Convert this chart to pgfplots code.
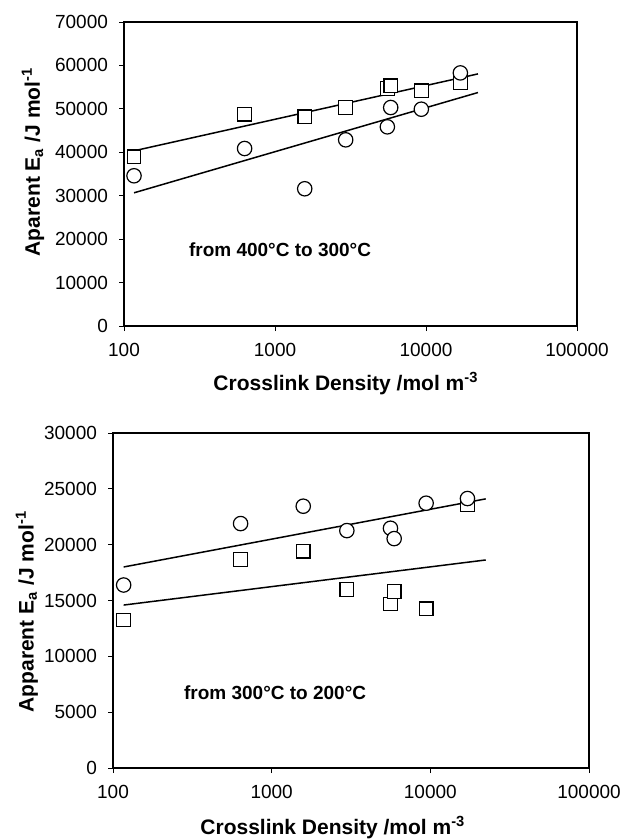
\documentclass[border=0pt]{standalone}
\usepackage{fontspec}
\setmainfont{Liberation Sans}
\usepackage{pgfplots}
\pgfplotsset{compat=1.18}
\pgfplotsset{
  mycommon/.style={
    scale only axis,
    xmin=100, xmax=100000,
    xtick={100,1000,10000,100000},
    xticklabels={100,1000,10000,100000},
    xminorticks=false,
    scaled y ticks=false,
    xtick pos=bottom, ytick pos=left,
    tick align=outside,
    major tick length=2.5pt,
    tick style={black, line width=0.5pt},
    axis line style={line width=0.8pt},
    tick label style={font=\fontsize{9.5}{11}\selectfont},
    xticklabel style={yshift=-2.5pt},
    yticklabel style={xshift=-2pt},
    label style={font=\bfseries\fontsize{10.5}{12}\selectfont},
    xlabel={Crosslink Density /mol m\textsuperscript{-3}},
    clip=false,
  },
  fitline/.style={black, line width=0.75pt, no marks},
  sq/.style={only marks, mark=square*, mark size=3.4pt, mark options={draw=black, fill=white, line width=0.6pt}},
  ci/.style={only marks, mark=*, mark size=3.6pt, mark options={draw=black, fill=white, line width=0.6pt}},
}
\begin{document}
\begin{tikzpicture}
\useasboundingbox (0pt,0pt) rectangle (310.5pt,-419.5pt);
% ---------------- top panel ----------------
\begin{semilogxaxis}[mycommon,
  at={(62pt,-163pt)}, anchor=south west,
  width=226.5pt, height=152pt,
  ymin=0, ymax=70000,
  ytick={0,10000,20000,30000,40000,50000,60000,70000},
  yticklabels={0,10000,20000,30000,40000,50000,60000,70000},
  ylabel={Aparent E\textsubscript{a} /J mol\textsuperscript{-1}},
  ylabel style={at={(axis description cs:-0.201,0.54)}, anchor=center},
  xlabel style={at={(axis description cs:0.49,-0.19)}, anchor=center},
]
\addplot[fitline] coordinates {(116.5,40340) (22080,58050)};
\addplot[fitline] coordinates {(116.5,30670) (22080,53760)};
\addplot[sq] coordinates {
 (116.5,38960) (629,48770) (1573,48160) (2938,50310)
 (5546,54680) (5837,55290) (9311,54140) (16882,55980)};
\addplot[ci] coordinates {
 (116.5,34590) (629,40870) (1573,31600) (2938,42870)
 (5546,45860) (5837,50310) (9311,49920) (16882,58280)};
\node[anchor=west, inner sep=0pt, font=\bfseries\fontsize{9.5}{11}\selectfont]
  at (axis cs:268,17485) {from 400°C to 300°C};
\end{semilogxaxis}
% ---------------- bottom panel ----------------
\begin{semilogxaxis}[mycommon,
  at={(56.5pt,-384pt)}, anchor=south west,
  width=238pt, height=167.5pt,
  ymin=0, ymax=30000,
  ytick={0,5000,10000,15000,20000,25000,30000},
  yticklabels={0,5000,10000,15000,20000,25000,30000},
  ylabel={Apparent E\textsubscript{a} /J mol\textsuperscript{-1}},
  ylabel style={at={(axis description cs:-0.181,0.467)}, anchor=center},
  xlabel style={at={(axis description cs:0.462,-0.179)}, anchor=center},
]
\addplot[fitline] coordinates {(116.7,18002) (22340,24103)};
\addplot[fitline] coordinates {(116.7,14593) (22340,18630)};
\addplot[sq] coordinates {
 (116.7,13248) (637,18690) (1581,19408) (2977,15969)
 (5608,14683) (5916,15789) (9408,14264) (17136,23595)};
\addplot[ci] coordinates {
 (116.7,16388) (637,21890) (1581,23445) (2977,21262)
 (5608,21471) (5916,20544) (9408,23714) (17136,24133)};
\node[anchor=west, inner sep=0pt, font=\bfseries\fontsize{9.5}{11}\selectfont]
  at (axis cs:279,6729) {from 300°C to 200°C};
\end{semilogxaxis}
\end{tikzpicture}
\end{document}
